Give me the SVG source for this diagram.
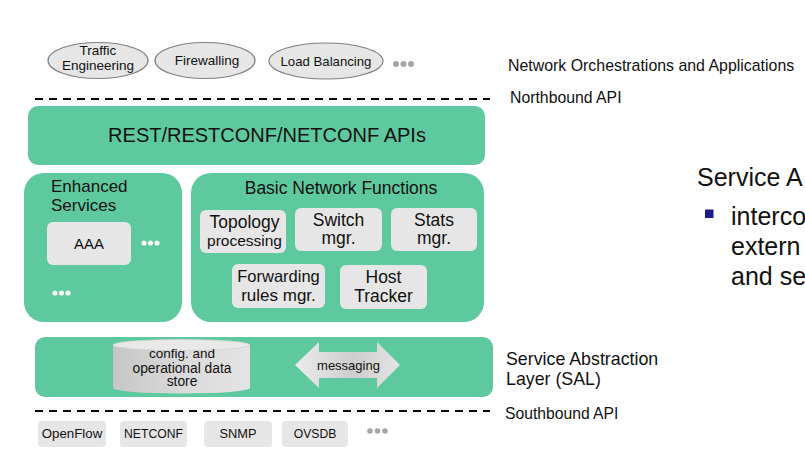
<svg xmlns="http://www.w3.org/2000/svg" width="805" height="458" viewBox="0 0 805 458">
<defs>
<linearGradient id="cylGrad" x1="0" y1="0" x2="1" y2="0">
<stop offset="0" stop-color="#c6c6c6"/>
<stop offset="0.5" stop-color="#dadada"/>
<stop offset="1" stop-color="#e4e4e4"/>
</linearGradient>
<linearGradient id="arrGrad" x1="0" y1="0" x2="1" y2="0">
<stop offset="0" stop-color="#ececec"/>
<stop offset="0.55" stop-color="#cdcdcd"/>
<stop offset="1" stop-color="#e4e4e4"/>
</linearGradient>
</defs>
<style>
text{font-family:"Liberation Sans",Arial,sans-serif;fill:#111}
.green{fill:#5ec99e}
.gbox{fill:#e6e6e6}
.app{fill:#e6e6e6;stroke:#7f7f7f;stroke-width:1.2}
.dash{stroke:#000;stroke-width:2;stroke-dasharray:8 6}
.c{text-anchor:middle}
.dg{fill:#a6a6a6}
.dw{fill:#f4f4f4}
</style>
<rect width="805" height="458" fill="#fff"/>

<g id="apps">
<g id="app-te"><ellipse class="app" cx="98" cy="60.5" rx="50" ry="18"/>
<text class="c" x="98" y="55" font-size="13.5">Traffic</text>
<text class="c" x="98" y="70" font-size="13.5">Engineering</text></g>
<g id="app-fw"><ellipse class="app" cx="205" cy="60.5" rx="50" ry="18"/>
<text class="c" x="207" y="65" font-size="13.5">Firewalling</text></g>
<g id="app-lb"><ellipse class="app" cx="326" cy="61" rx="57" ry="18"/>
<text class="c" x="326" y="66" font-size="13.2">Load Balancing</text></g>
<g id="app-more" class="dg"><circle cx="396" cy="64" r="3"/><circle cx="403.5" cy="64" r="3"/><circle cx="411" cy="64" r="3"/></g>
</g>

<g id="lines">
<line class="dash" x1="35" y1="99" x2="490" y2="99"/>
<line class="dash" x1="35" y1="411" x2="490" y2="411"/>
</g>

<g id="rest">
<rect class="green" x="28" y="106" width="457" height="59" rx="10"/>
<text class="c" x="267" y="142" font-size="20">REST/RESTCONF/NETCONF APIs</text>
</g>

<g id="enhanced">
<rect class="green" x="24" y="173" width="158" height="149" rx="20"/>
<text x="51" y="192" font-size="17">Enhanced</text>
<text x="51" y="211" font-size="17">Services</text>
<g id="aaa"><rect class="gbox" x="47" y="222" width="84" height="43" rx="6"/>
<text class="c" x="89" y="248.5" font-size="15">AAA</text></g>
<g class="dw"><circle cx="144" cy="243" r="2.6"/><circle cx="150.5" cy="243" r="2.6"/><circle cx="157" cy="243" r="2.6"/></g>
<g class="dw"><circle cx="55" cy="293" r="2.6"/><circle cx="61.5" cy="293" r="2.6"/><circle cx="68" cy="293" r="2.6"/></g>
</g>

<g id="basic">
<rect class="green" x="191" y="173" width="293" height="149" rx="20"/>
<text class="c" x="341" y="194" font-size="17.5">Basic Network Functions</text>
<g id="topology"><rect class="gbox" x="200" y="210" width="86" height="43" rx="6"/>
<text class="c" x="244.5" y="228" font-size="17.5">Topology</text>
<text class="c" x="244.5" y="245.5" font-size="15.5">processing</text></g>
<g id="switch"><rect class="gbox" x="295" y="208" width="87" height="43" rx="6"/>
<text class="c" x="338.5" y="225.5" font-size="17.5">Switch</text>
<text class="c" x="338.5" y="244" font-size="17.5">mgr.</text></g>
<g id="stats"><rect class="gbox" x="391" y="208" width="86" height="43" rx="6"/>
<text class="c" x="434" y="225.5" font-size="17.5">Stats</text>
<text class="c" x="434" y="244" font-size="17.5">mgr.</text></g>
<g id="forwarding"><rect class="gbox" x="232" y="264" width="93" height="44" rx="6"/>
<text class="c" x="278.5" y="282" font-size="16.5">Forwarding</text>
<text class="c" x="278.5" y="300.5" font-size="17">rules mgr.</text></g>
<g id="host"><rect class="gbox" x="340" y="265" width="87" height="44" rx="6"/>
<text class="c" x="383.5" y="283" font-size="17.5">Host</text>
<text class="c" x="383.5" y="301.5" font-size="17.5">Tracker</text></g>
</g>

<g id="sal">
<rect class="green" x="35" y="337" width="458" height="60" rx="10"/>
<g id="datastore">
<path d="M113,345 V388 A68.5,5.5 0 0 0 250,388 V345 Z" fill="url(#cylGrad)"/>
<ellipse cx="181.5" cy="345" rx="68.5" ry="5.5" fill="#e9e9e9" stroke="#d2d2d2" stroke-width="0.8"/>
<text class="c" x="182" y="358" font-size="13.5">config. and</text>
<text class="c" x="182" y="372.5" font-size="13.8">operational data</text>
<text class="c" x="182" y="386" font-size="13.8">store</text>
</g>
<g id="messaging">
<path d="M295,365 L319,342 V352 H377 V342 L400,365 L377,388 V378 H319 V388 Z" fill="url(#arrGrad)"/>
<text class="c" x="348.5" y="370" font-size="13">messaging</text>
</g>
</g>

<g id="southbound">
<g id="sb-openflow"><rect class="gbox" x="38" y="421" width="68" height="26" rx="4"/>
<text class="c" x="72" y="437.5" font-size="13.3">OpenFlow</text></g>
<g id="sb-netconf"><rect class="gbox" x="120" y="421" width="67" height="26" rx="4"/>
<text class="c" x="153.5" y="437.5" font-size="12.2">NETCONF</text></g>
<g id="sb-snmp"><rect class="gbox" x="204" y="421" width="68" height="26" rx="4"/>
<text class="c" x="238" y="437.5" font-size="12.8">SNMP</text></g>
<g id="sb-ovsdb"><rect class="gbox" x="282" y="421" width="66" height="26" rx="4"/>
<text class="c" x="315" y="437.5" font-size="12.2">OVSDB</text></g>
<g class="dg"><circle cx="370" cy="431" r="2.8"/><circle cx="377.5" cy="431" r="2.8"/><circle cx="385" cy="431" r="2.8"/></g>
</g>

<g id="labels">
<text x="508" y="71" font-size="15.9">Network Orchestrations and Applications</text>
<text x="510" y="103" font-size="15.8">Northbound API</text>
<text x="506" y="365" font-size="17.8">Service Abstraction</text>
<text x="506" y="385" font-size="17.8">Layer (SAL)</text>
<text x="505" y="419" font-size="15.7">Southbound API</text>
</g>

<g id="side-text">
<text x="697" y="186" font-size="25">Service A</text>
<rect x="705" y="209.5" width="8.5" height="8.5" fill="#1a1a8e"/>
<text x="731" y="225" font-size="25">interco</text>
<text x="731" y="255" font-size="25">extern</text>
<text x="731" y="285" font-size="25">and se</text>
</g>
</svg>
